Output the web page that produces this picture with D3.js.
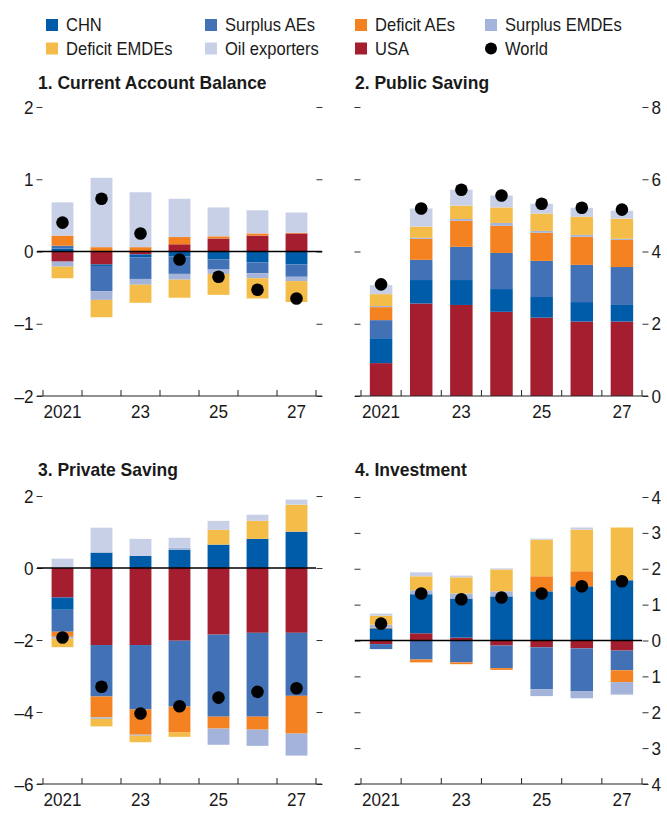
<!DOCTYPE html>
<html><head><meta charset="utf-8">
<script src="https://cdn.jsdelivr.net/npm/d3@7"></script>
<style>
html,body{margin:0;padding:0;background:#fff;}
svg{display:block;}
text{font-family:"Liberation Sans",Arial,sans-serif;fill:#1a1a1a;}
</style></head>
<body><svg id="chart" width="667" height="813"></svg>
<script>
// ---------- DATA ----------
const years = ["2021","2022","2023","2024","2025","2026","2027"];
const xTickLabels = ["2021","","23","","25","","27"];
const seriesNames = ["USA","CHN","Surplus AEs","Deficit AEs","Surplus EMDEs","Deficit EMDEs","Oil exporters"];
const legendOrder = ["CHN","Surplus AEs","Deficit AEs","Surplus EMDEs","Deficit EMDEs","Oil exporters","USA","World"];
const seriesColors = ["#A51E2F","#005CA9","#4272B5","#F58220","#A4B3D9","#F4BD4A","#C8D0E7"];

// Panel 1: Current Account Balance
const caUSA   = [-0.14,-0.18,-0.04, 0.10, 0.18, 0.22, 0.25];
const caCHN   = [ 0.04,-0.02,-0.04,-0.07,-0.11,-0.15,-0.18];
const caSAE   = [ 0.04,-0.35,-0.30,-0.24,-0.14,-0.15,-0.17];
const caDAE   = [ 0.14, 0.06, 0.06, 0.10, 0.03, 0.03, 0.01];
const caSEMDE = [-0.07,-0.12,-0.08,-0.08,-0.06,-0.07,-0.06];
const caDEMDE = [-0.16,-0.24,-0.25,-0.25,-0.29,-0.28,-0.29];
const caOil   = [ 0.46, 0.96, 0.76, 0.53, 0.40, 0.32, 0.28];
const caWorld = [ 0.40, 0.73, 0.25,-0.11,-0.35,-0.53,-0.65];

// Panel 2: Public Saving
const puUSA   = [0.91,2.56,2.52,2.33,2.17,2.06,2.06];
const puCHN   = [0.69,0.65,0.69,0.63,0.57,0.54,0.46];
const puSAE   = [0.50,0.56,0.92,1.00,1.00,1.03,1.05];
const puDAE   = [0.36,0.58,0.72,0.75,0.78,0.78,0.75];
const puSEMDE = [0.03,0.03,0.05,0.08,0.05,0.05,0.03];
const puDEMDE = [0.33,0.31,0.37,0.43,0.48,0.50,0.56];
const puOil   = [0.25,0.50,0.44,0.33,0.27,0.25,0.22];
const puWorld = [3.09,5.19,5.71,5.55,5.32,5.21,5.16];

// Panel 3: Private Saving
const prUSA   = [-0.82,-2.14,-2.14,-2.02,-1.85,-1.80,-1.80];
const prCHN   = [-0.34, 0.43, 0.34, 0.51, 0.65, 0.81, 1.01];
const prSAE   = [-0.61,-1.43,-1.79,-1.83,-2.28,-2.33,-1.75];
const prDAE   = [-0.14,-0.58,-0.70,-0.72,-0.33,-0.36,-1.05];
const prSEMDE = [-0.05,-0.04,-0.03, 0.05,-0.45,-0.45,-0.61];
const prDEMDE = [-0.24,-0.21,-0.18,-0.12, 0.41, 0.50, 0.75];
const prOil   = [ 0.26, 0.69, 0.47, 0.28, 0.25, 0.17, 0.14];
const prWorld = [-1.93,-3.30,-4.04,-3.84,-3.60,-3.44,-3.34];

// Panel 4: Investment
const inUSA   = [-0.10, 0.20, 0.08,-0.14,-0.19,-0.22,-0.28];
const inCHN   = [ 0.34, 1.09, 1.09, 1.23, 1.37, 1.51, 1.68];
const inSAE   = [-0.14,-0.53,-0.61,-0.63,-1.17,-1.20,-0.55];
const inDAE   = [ 0.02,-0.08,-0.05,-0.05, 0.42, 0.42,-0.33];
const inSEMDE = [ 0.08, 0.11, 0.14, 0.14,-0.19,-0.19,-0.33];
const inDEMDE = [ 0.25, 0.39, 0.45, 0.61, 1.02, 1.16, 1.47];
const inOil   = [ 0.06, 0.11, 0.05, 0.03, 0.03, 0.06,-0.03];
const inWorld = [ 0.47, 1.31, 1.15, 1.20, 1.31, 1.51, 1.65];

const panelTitles = ["1. Current Account Balance","2. Public Saving","3. Private Saving","4. Investment"];
const yTicks1 = [-2,-1,0,1,2];
const yTicks2 = [0,2,4,6,8];
const yTicks3 = [-6,-4,-2,0,2];
const yTicks4 = [-4,-3,-2,-1,0,1,2,3,4];

function table(cols, world){
  return years.map((y,i)=>{
    const o={year:y, World:world[i]};
    seriesNames.forEach((s,k)=>o[s]=cols[k][i]);
    return o;
  });
}
const minusFmt = d => (d<0?"\u2013":"") + Math.abs(d);
const panelData = [
  {rows:table([caUSA,caCHN,caSAE,caDAE,caSEMDE,caDEMDE,caOil],caWorld), domain:[-2,2], ticks:yTicks1, fmt:minusFmt},
  {rows:table([puUSA,puCHN,puSAE,puDAE,puSEMDE,puDEMDE,puOil],puWorld), domain:[0,8], ticks:yTicks2, fmt:minusFmt},
  {rows:table([prUSA,prCHN,prSAE,prDAE,prSEMDE,prDEMDE,prOil],prWorld), domain:[-6,2], ticks:yTicks3, fmt:minusFmt},
  {rows:table([inUSA,inCHN,inSAE,inDAE,inSEMDE,inDEMDE,inOil],inWorld), domain:[-4,4], ticks:yTicks4, fmt:d=>String(Math.abs(d))}
];

// ---------- LAYOUT ----------
const FS = 19;
const layout = [
  {x0:43, x1:316, yTop:107, yBot:396, side:"left",  tx:38,  ty:89},
  {x0:361,x1:642, yTop:107, yBot:396, side:"right", tx:355, ty:89},
  {x0:43, x1:316, yTop:496, yBot:784, side:"left",  tx:38,  ty:476},
  {x0:361,x1:642, yTop:497, yBot:784, side:"right", tx:355, ty:476}
];
function condense(sel, f){
  sel.each(function(){
    const w = this.getComputedTextLength();
    if(w>0){ d3.select(this).attr("textLength", w*f).attr("lengthAdjust","spacingAndGlyphs"); }
  });
}

const svg = d3.select("#chart");
const color = d3.scaleOrdinal().domain(seriesNames).range(seriesColors);
const stack = d3.stack().keys(seriesNames).offset(d3.stackOffsetDiverging);

panelData.forEach((pd,pi)=>{
  const L = layout[pi];
  const g = svg.append("g");
  const pad = 0.44;
  const x = d3.scaleBand().domain(years).range([L.x0,L.x1]).paddingInner(pad).paddingOuter(pad/2);
  const y = d3.scaleLinear().domain(pd.domain).range([L.yBot,L.yTop]);
  const step = x.step();

  // title
  g.append("text").attr("x",L.tx).attr("y",L.ty).attr("font-size",FS).attr("font-weight","bold")
    .text(panelTitles[pi]).call(condense,0.92);

  // y axes both sides
  const axL = d3.axisLeft(y).tickValues(pd.ticks).tickSize(6).tickPadding(3)
      .tickFormat(L.side==="left"?pd.fmt:()=> "");
  const axR = d3.axisRight(y).tickValues(pd.ticks).tickSize(6).tickPadding(3)
      .tickFormat(L.side==="right"?pd.fmt:()=> "");
  const gl = g.append("g").attr("transform",`translate(${L.x0-0.5},0)`).call(axL);
  const gr = g.append("g").attr("transform",`translate(${L.x1+0.5},0)`).call(axR);
  [gl,gr].forEach(a=>{
    a.select(".domain").remove();
    a.selectAll(".tick line").attr("stroke","#333");
    a.selectAll(".tick text").attr("font-size",FS).attr("fill","#1a1a1a")
      .style("font-family",'"Liberation Sans",Arial,sans-serif').call(condense,0.9);
  });

  // bars
  const series = stack(pd.rows);
  g.append("g").selectAll("g").data(series).join("g")
    .attr("fill",d=>color(d.key))
    .selectAll("rect").data(d=>d).join("rect")
    .attr("x",d=>x(d.data.year))
    .attr("width",x.bandwidth())
    .attr("y",d=>y(Math.max(d[0],d[1])))
    .attr("height",d=>Math.abs(y(d[0])-y(d[1])));

  // zero line
  if(pd.domain[0]<0){
    g.append("line").attr("x1",L.x0-6).attr("x2",L.x1+(pi===0?6:0))
      .attr("y1",y(0)).attr("y2",y(0)).attr("stroke","#000").attr("stroke-width",1.3);
  }

  // bottom axis line + boundary ticks
  g.append("line").attr("x1",L.x0-6).attr("x2",L.x1+6).attr("y1",L.yBot).attr("y2",L.yBot)
    .attr("stroke","#222").attr("stroke-width",1.2);
  const bounds = d3.range(years.length+1).map(i=>L.x0+i*step);
  g.append("g").selectAll("line").data(bounds).join("line")
    .attr("x1",d=>d).attr("x2",d=>d).attr("y1",L.yBot).attr("y2",L.yBot-6)
    .attr("stroke","#222").attr("stroke-width",1);

  // x labels
  const ax = d3.axisBottom(x).tickSize(0).tickPadding(9).tickFormat((d,i)=>xTickLabels[i]);
  const gx = g.append("g").attr("transform",`translate(0,${L.yBot})`).call(ax);
  gx.select(".domain").remove();
  gx.selectAll(".tick text").attr("font-size",FS).attr("fill","#1a1a1a")
    .style("font-family",'"Liberation Sans",Arial,sans-serif').call(condense,0.9);

  // world dots
  g.append("g").selectAll("circle").data(pd.rows).join("circle")
    .attr("cx",d=>x(d.year)+x.bandwidth()/2).attr("cy",d=>y(d.World)).attr("r",6.3).attr("fill","#000");
});

// ---------- LEGEND ----------
const legX = [46,205,355,485];
const legY = [31,54.5];
const lg = svg.append("g");
legendOrder.forEach((name,i)=>{
  const cx = legX[i%4], by = legY[Math.floor(i/4)];
  if(name==="World"){
    lg.append("circle").attr("cx",cx+6).attr("cy",by-6).attr("r",6).attr("fill","#000");
  } else {
    lg.append("rect").attr("x",cx).attr("y",by-12).attr("width",12).attr("height",12).attr("fill",color(name));
  }
  lg.append("text").attr("x",cx+20).attr("y",by).attr("font-size",FS).text(name).call(condense,0.87);
});
</script></body></html>
